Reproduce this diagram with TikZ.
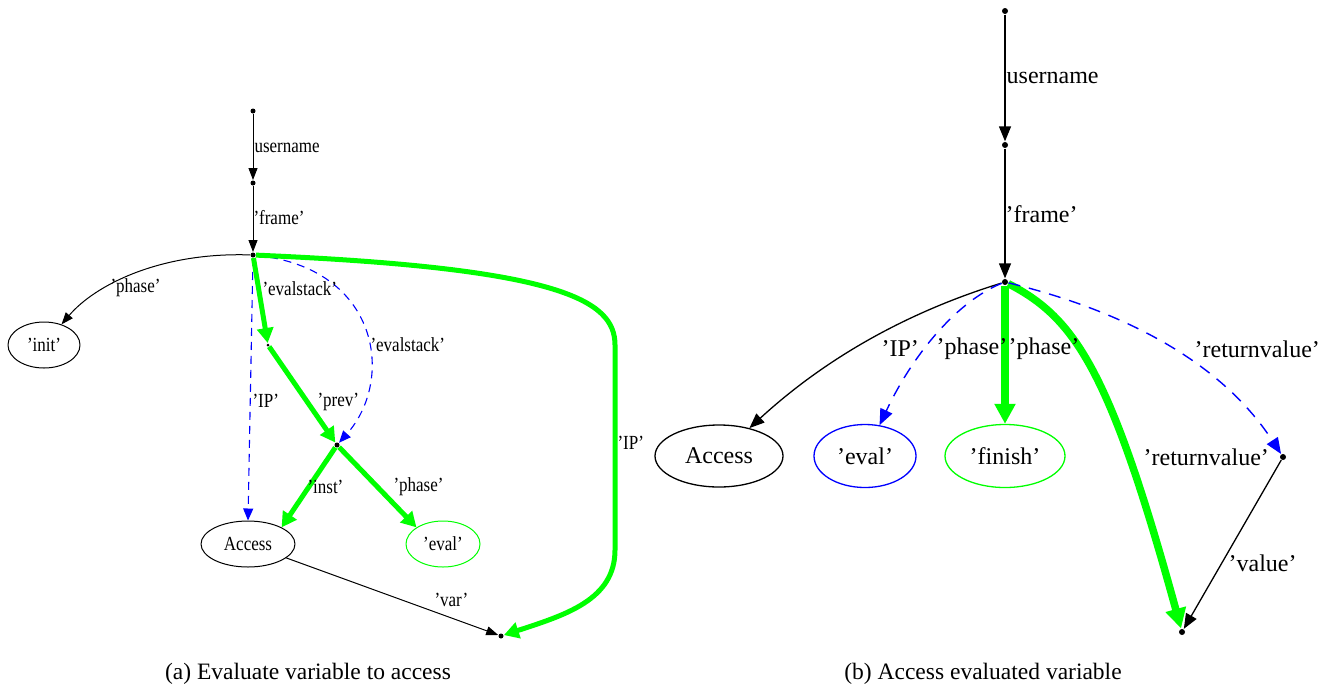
\documentclass[tikz,border=0pt]{standalone}
\usepackage{fontspec}
\setmainfont{Liberation Serif}
\usetikzlibrary{arrows.meta, shapes.geometric}

% labels of the left graph are set a little narrow
\newcommand{\slim}[1]{\scalebox{0.85}[1]{#1}}

\begin{document}
\begin{tikzpicture}[x=1pt, y=-1pt, line join=round,
    dot/.style={circle, fill=black, inner sep=0pt, minimum size=#1},
    dot/.default=5pt,
    oval/.style={ellipse, draw, inner sep=0pt},
    lbl/.style={anchor=west, inner sep=0pt},
    small/.style={font=\fontsize{20}{24}\selectfont},
    big/.style={font=\fontsize{24}{28}\selectfont},
    tipa/.style={-{Triangle[length=12pt,width=9pt]}},
    tipb/.style={-{Triangle[length=15pt,width=12pt]}},
    hota/.style={draw=green, line width=5pt, -{Triangle[length=15pt,width=16pt]}},
    hotb/.style={draw=green, line width=7.5pt, -{Triangle[length=20pt,width=20pt]}},
    ghosta/.style={draw=blue, line width=1.1pt, dash pattern=on 8pt off 6pt, -{Triangle[length=12pt,width=10pt]}},
    ghostb/.style={draw=blue, line width=1.4pt, dash pattern=on 12pt off 9pt, -{Triangle[length=16pt,width=13pt]}}]
  \useasboundingbox (0,0) rectangle (1321,691);

  % (a) evaluate variable to access
  \begin{scope}[small, line width=1pt]
    \node[dot] (a0) at (253,111) {};
    \node[dot] (a1) at (253,183) {};
    \node[dot] (a2) at (253,255) {};
    \node[dot=3pt] (a3) at (268,345) {};
    \node[dot] (a4) at (337,445) {};
    \node[dot] (a5) at (501,636) {};
    \node[oval, minimum width=72pt, minimum height=46pt] (ainit) at (44,345) {\slim{'init'}};
    \node[oval, minimum width=94pt, minimum height=46pt] (aacc) at (248,544) {\slim{Access}};
    \node[oval, draw=green, minimum width=74pt, minimum height=46pt] (aeval) at (443,544) {\slim{'eval'}};

    \draw[tipa] (a0) -- (a1);
    \draw[tipa] (a1) -- (a2);
    \draw[tipa] (a2) .. controls (160,252) and (95,285) .. (ainit);
    \draw[ghosta] (a2) -- (aacc.north);
    \draw[ghosta] (a2) .. controls (380,268) and (395,380) .. (a4);
    \draw[hota] (a2) -- (a3);
    \draw[hota] (a3) -- (a4);
    \draw[hota] (a4) -- (aacc.north east);
    \draw[hota] (a4) -- (aeval.north west);
    \draw[tipa] (aacc) -- (a5);
    \draw[hota] (a2) .. controls (560,268) and (615,300) .. (615,345)
      -- (615,550) .. controls (615,600) and (565,615) .. (a5);

    \node[lbl] (la0) at (254,148) {\slim{username}};
    \node[lbl] (la1) at (253,218) {\slim{'frame'}};
    \node[lbl] (la2) at (110,288) {\slim{'phase'}};
    \node[lbl] (la3) at (262,289) {\slim{'evalstack'}};
    \node[lbl] (la4) at (370,345) {\slim{'evalstack'}};
    \node[lbl] (la5) at (252,401) {\slim{'IP'}};
    \node[lbl] (la6) at (317,402) {\slim{'prev'}};
    \node[lbl] (la7) at (307,487) {\slim{'inst'}};
    \node[lbl] (la8) at (393,487) {\slim{'phase'}};
    \node[lbl] (la9) at (434,600) {\slim{'var'}};
    \node[lbl] (la10) at (617,443) {\slim{'IP'}};
  \end{scope}

  % (b) access evaluated variable
  \begin{scope}[big, line width=1.3pt]
    \node[dot=6pt] (b0) at (1005,11) {};
    \node[dot=6pt] (b1) at (1005,145) {};
    \node[dot=6pt] (b2) at (1005,282) {};
    \node[dot=6pt] (b3) at (1283,457) {};
    \node[dot=6pt] (b4) at (1182,632) {};
    \node[oval, minimum width=128pt, minimum height=62pt] (bacc) at (719,456) {Access};
    \node[oval, draw=blue, minimum width=102pt, minimum height=63pt] (beval) at (865,456) {'eval'};
    \node[oval, draw=green, minimum width=120pt, minimum height=63pt] (bfin) at (1005,456) {'finish'};

    \draw[tipb] (b0) -- (b1);
    \draw[tipb] (b1) -- (b2);
    \draw[tipb] (b2) .. controls (930,305) and (840,345) .. (bacc);
    \draw[ghostb] (b2) .. controls (960,300) and (915,350) .. (beval);
    \draw[hotb] (b2) -- (bfin);
    \draw[hotb] (b2) .. controls (1075,318) and (1110,370) .. (b4);
    \draw[ghostb] (b2) .. controls (1120,310) and (1220,360) .. (b3);
    \draw[tipb] (b3) -- (b4);

    \node[lbl] (lb0) at (1006,78) {username};
    \node[lbl] (lb1) at (1005,214) {'frame'};
    \node[lbl] (lb2) at (881,349) {'IP'};
    \node[lbl] (lb3) at (936,349) {'phase'};
    \node[lbl] (lb4) at (1008,349) {'phase'};
    \node[lbl] (lb5) at (1194,349) {'returnvalue'};
    \node[lbl] (lb6) at (1143,457) {'returnvalue'};
    \node[lbl] (lb7) at (1228,563) {'value'};
  \end{scope}

  % captions
  \node[font=\fontsize{23.5}{28}\selectfont] (capa) at (308,674) {(a) Evaluate variable to access};
  \node[font=\fontsize{23.5}{28}\selectfont] (capb) at (983,674) {(b) Access evaluated variable};
\end{tikzpicture}
\end{document}
